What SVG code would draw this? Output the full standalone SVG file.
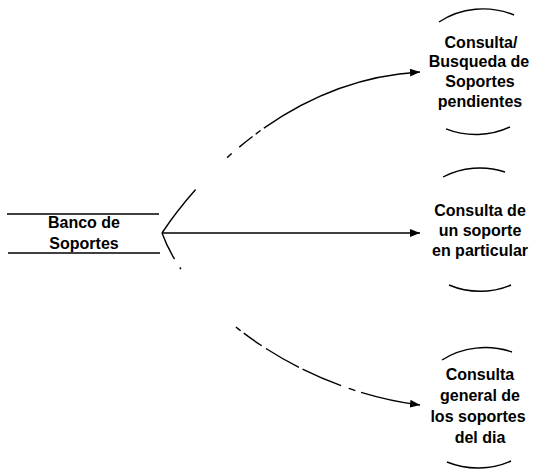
<svg xmlns="http://www.w3.org/2000/svg" width="535" height="470" viewBox="0 0 535 470">
<style>
  text { font-family: "Liberation Sans", Arial, sans-serif; font-weight: bold; font-size: 16px; fill: #000; text-anchor: middle; }
  .ln { fill: none; stroke: #000; stroke-width: 1.4; }
  .arc { fill: none; stroke: #000; stroke-width: 1.4; }
</style>
<defs>
  <marker id="ah" viewBox="0 0 10 8" refX="10" refY="4" markerWidth="10" markerHeight="8" markerUnits="userSpaceOnUse" orient="auto">
    <path d="M0,0 L10,4 L0,8 z" fill="#000"/>
  </marker>
</defs>
<rect width="535" height="470" fill="#fff"/>
<g id="banco">
  <line class="ln" x1="7" y1="214" x2="159" y2="214"/>
  <line class="ln" x1="8" y1="253" x2="160" y2="253"/>
  <text x="84" y="228">Banco de</text>
  <text x="84" y="249">Soportes</text>
</g>
<g id="connectors">
  <path class="ln" d="M162,233 C192,188 280,80 420,72" stroke-dasharray="55 45 6 10 17 4 6 4 400" marker-end="url(#ah)"/>
  <line class="ln" x1="162" y1="233" x2="420" y2="233" marker-end="url(#ah)"/>
  <path class="ln" d="M162,233 C190,310 300,390 420,405" stroke-dasharray="29 10 2 80 6 4 22 5 38 4 42 8 7 6 400" marker-end="url(#ah)"/>
</g>
<g id="n1">
  <path class="arc" d="M439,22 A72,63 0 0 1 514,15"/>
  <path class="arc" d="M446,128.9 A72,63 0 0 0 510,127"/>
  <text x="481" y="48">Consulta/</text>
  <text x="479" y="67">Busqueda de</text>
  <text x="480" y="87">Soportes</text>
  <text x="480" y="107">pendientes</text>
</g>
<g id="n2">
  <path class="arc" d="M443,177 A72,64 0 0 1 505,172"/>
  <path class="arc" d="M449,285 A72,64 0 0 0 511,285"/>
  <text x="480" y="216">Consulta de</text>
  <text x="480" y="236">un soporte</text>
  <text x="480" y="256">en particular</text>
</g>
<g id="n3">
  <path class="arc" d="M442,360 A72,62 0 0 1 512,352"/>
  <path class="arc" d="M447,462 A72,62 0 0 0 511,461"/>
  <text x="480" y="380">Consulta</text>
  <text x="480" y="401">general de</text>
  <text x="478" y="422">los soportes</text>
  <text x="480" y="443">del dia</text>
</g>
</svg>
